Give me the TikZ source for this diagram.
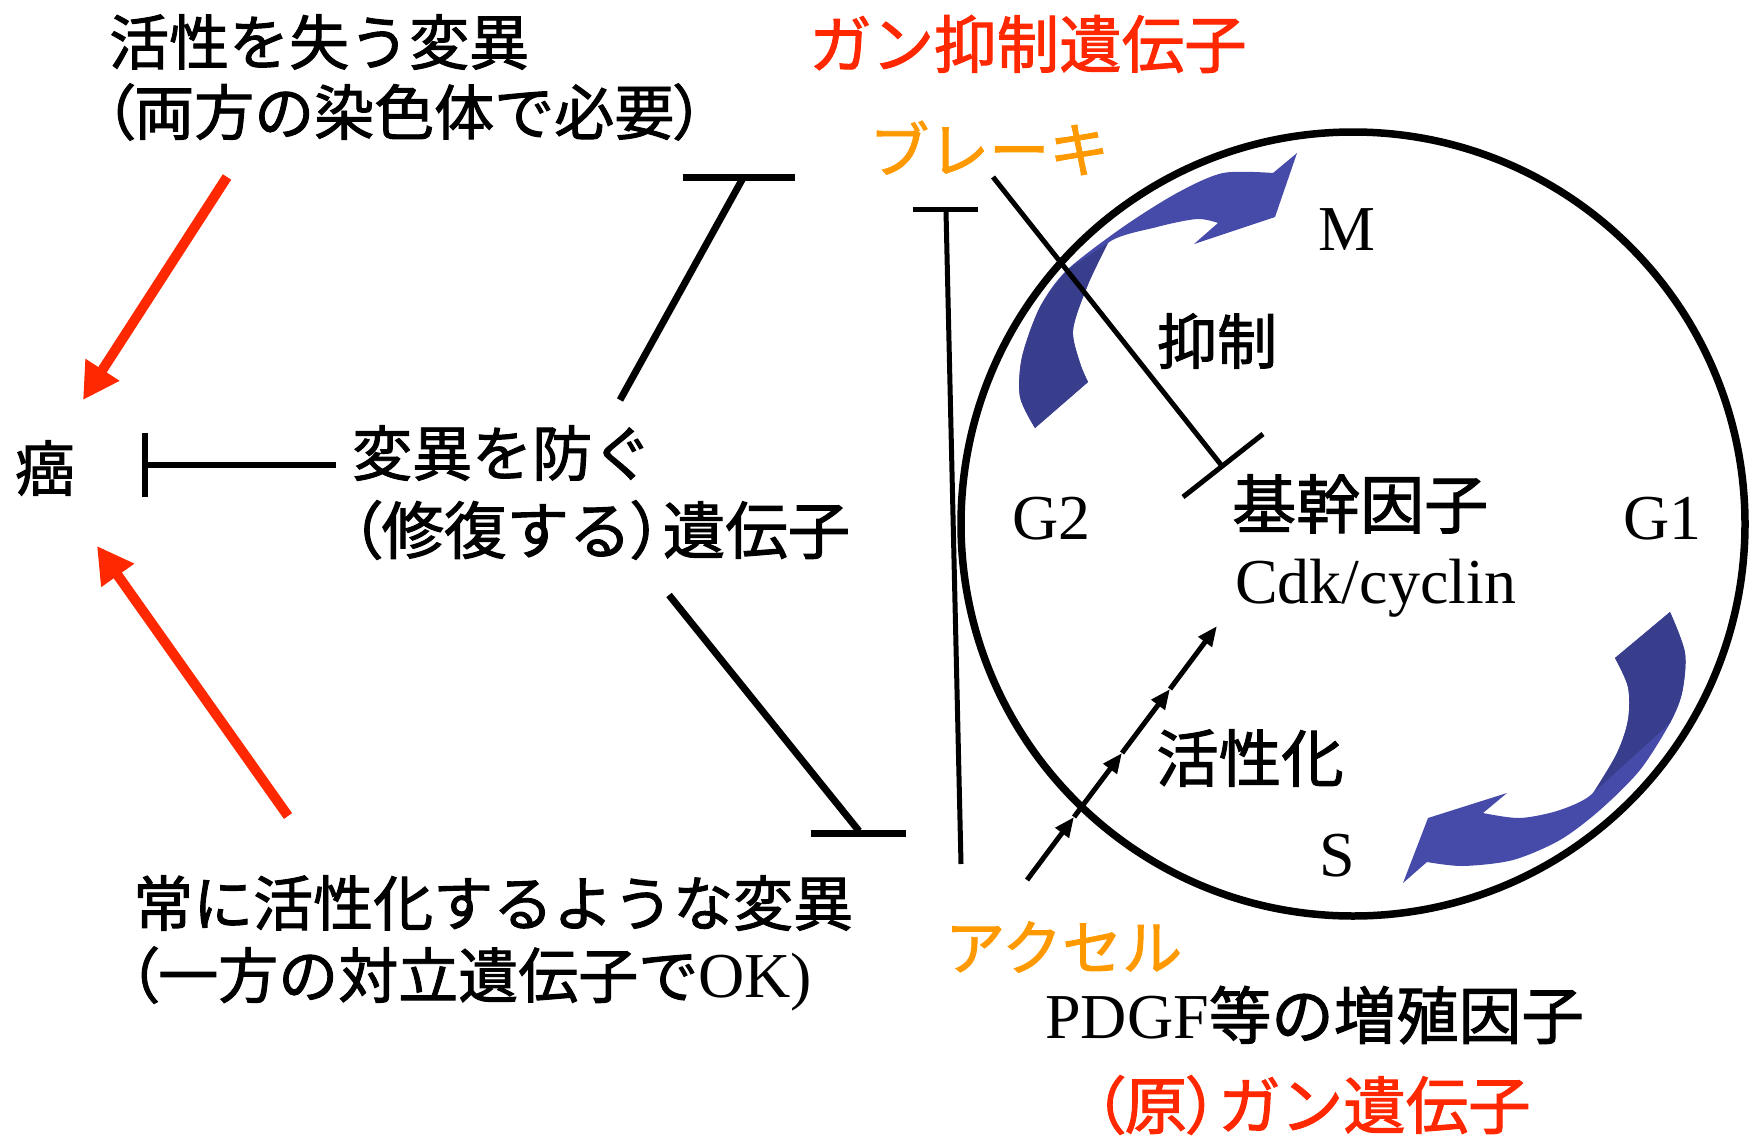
\documentclass[tikz,border=0pt]{standalone}
\usepackage{fontspec}
\setmainfont{Noto Sans CJK JP}[FakeBold=1.6]
\newfontfamily\cjkp{Noto Sans CJK JP}[RawFeature=+palt, FakeBold=1.6]
\newfontfamily\tmr{Liberation Serif}
\usetikzlibrary{arrows.meta}
\definecolor{cred}{RGB}{255,40,0}
\definecolor{corange}{RGB}{255,153,0}
\definecolor{blight}{RGB}{70,75,170}
\definecolor{bdark}{RGB}{56,61,140}
\newcommand\jlp{{\cjkp （}}
\newcommand\jrp{{\cjkp ）}}
\newcommand\lat[1]{{\tmr\fontsize{64}{70}\selectfont #1}}
\begin{document}
\begin{tikzpicture}[x=1pt,y=-1pt,
  jt/.style={inner sep=0pt, anchor=west, font=\fontsize{60}{70}\selectfont},
  jtl/.style={inner sep=0pt, anchor=west, font=\fontsize{62.5}{70}\selectfont},
  lt/.style={inner sep=0pt, anchor=west, font=\tmr\fontsize{64}{70}\selectfont},
  conn/.style={line width=7pt},
  thinconn/.style={line width=5pt},
  redarr/.style={line width=10pt, draw=cred, -{Triangle[length=36pt,width=38pt]}},
  actarr/.style={line width=5pt, -{Triangle[length=20pt,width=16pt]}}]
\useasboundingbox (0,0) rectangle (1753,1140);

% cell cycle circle
\coordinate (cc) at (1353,524);
\draw[line width=7.5pt] (cc) circle[radius=392pt];

% blue curved arrow G2 -> M
\fill[blight] plot[smooth] coordinates {(1035,428) (1020,397) (1022,357) (1040,307) (1067,270) (1123,227) (1177,193) (1223,173) (1273,173)}
  -- (1297,153) -- (1275,217) -- (1194,244) --
  plot[smooth] coordinates {(1218,223) (1197,219) (1157,227) (1108,243) (1087,287) (1073,330) (1080,363) (1088,382)} -- cycle;
\fill[bdark] plot[smooth] coordinates {(1035,428) (1020,397) (1022,357) (1040,307) (1067,270)}
  -- plot[smooth] coordinates {(1108,243) (1087,287) (1073,330) (1080,363) (1088,382)} -- cycle;

% blue curved arrow G1 -> S
\fill[blight] plot[smooth] coordinates {(1670,612) (1685,653) (1682,693) (1670,723) (1640,770) (1600,810) (1560,840) (1513,860) (1463,866) (1427,862)}
  -- (1403,883) -- (1428,818) -- (1507,793) --
  plot[smooth] coordinates {(1483,813) (1520,818) (1560,810) (1593,793) (1617,753) (1628,720) (1628,687) (1615,658)} -- cycle;
\fill[bdark] plot[smooth] coordinates {(1670,612) (1685,653) (1682,693) (1670,723)}
  -- plot[smooth] coordinates {(1593,793) (1617,753) (1628,720) (1628,687) (1615,658)} -- cycle;

% texts
\node[jt] (t1) at (109,42) {活性を失う変異};
\node[jt] (t2) at (104,112) {\jlp 両方の染色体で必要\jrp};
\node[jtl, text=cred] (t3) at (809,44) {ガン抑制遺伝子};
\node[jt, text=corange] (t4) at (869,148) {ブレーキ};
\node[lt] (t5) at (1318,230) {M};
\node[jt] (t6) at (1157,341) {抑制};
\node[jt] (t7) at (15,468) {癌};
\node[jt] (t8) at (352,453) {変異を防ぐ};
\node[jtl] (t9) at (350,530) {\jlp 修復する\jrp 遺伝子};
\node[lt] (t10) at (1012,519) {G2};
\node[inner sep=0pt, anchor=west, font=\fontsize{64}{70}\selectfont] (t11) at (1232,504) {基幹因子};
\node[lt] (t12) at (1235,588) {Cdk/cyclin};
\node[lt] (t13) at (1623,519) {G1};
\node[jtl] (t14) at (1156,758) {活性化};
\node[lt] (t15) at (1319,856) {S};
\node[jt] (t16) at (133,903) {常に活性化するような変異};
\node[jt] (t17) at (128,979) {\jlp 一方の対立遺伝子で\lat{OK)}};
\node[jt, text=corange] (t18) at (945,947) {アクセル};
\node[jtl] (t19) at (1045,1015) {\lat{PDGF}等の増殖因子};
\node[jtl, text=cred] (t20) at (1093,1105) {\jlp 原\jrp ガン遺伝子};

% red arrows to cancer
\coordinate (ra1) at (227,177);
\coordinate (ra2) at (83,400);
\coordinate (rb1) at (288,816);
\coordinate (rb2) at (97,546);
\draw[redarr] (ra1) -- (ra2);
\draw[redarr] (rb1) -- (rb2);

% repair genes inhibit cancer
\coordinate (c1) at (336,465);
\coordinate (c2) at (145,465);
\coordinate (cb1) at (145,433);
\coordinate (cb2) at (145,497);
\draw[line width=6pt] (c1) -- (c2);
\draw[line width=6pt] (cb1) -- (cb2);

% repair genes inhibit suppressor genes
\coordinate (u1) at (620,400);
\coordinate (u2) at (743,178);
\coordinate (ub1) at (683,177);
\coordinate (ub2) at (795,177);
\draw[conn] (u1) -- (u2);
\draw[conn] (ub1) -- (ub2);

% repair genes inhibit oncogenes
\coordinate (l1) at (669,595);
\coordinate (l2) at (859,831);
\coordinate (lb1) at (811,833);
\coordinate (lb2) at (906,833);
\draw[conn] (l1) -- (l2);
\draw[conn] (lb1) -- (lb2);

% oncogene inhibits suppressor (vertical)
\coordinate (v1) at (961,864);
\coordinate (v2) at (946,211);
\coordinate (vb1) at (913,209);
\coordinate (vb2) at (978,209);
\draw[thinconn] (v1) -- (v2);
\draw[thinconn] (vb1) -- (vb2);

% brake inhibits core factor
\coordinate (k1) at (993,177);
\coordinate (k2) at (1222,466);
\coordinate (kb1) at (1183,497);
\coordinate (kb2) at (1263,434);
\draw[line width=5pt] (k1) -- (k2);
\draw[line width=5pt] (kb1) -- (kb2);

% accelerator activates core factor
\coordinate (a0) at (1027,880);
\coordinate (a1) at (1074,817);
\coordinate (a2) at (1122,753);
\coordinate (a3) at (1170,689);
\coordinate (a4) at (1217,626);
\draw[actarr] (a0) -- (a1);
\draw[actarr] (a1) -- (a2);
\draw[actarr] (a2) -- (a3);
\draw[actarr] (a3) -- (a4);
\end{tikzpicture}
\end{document}
